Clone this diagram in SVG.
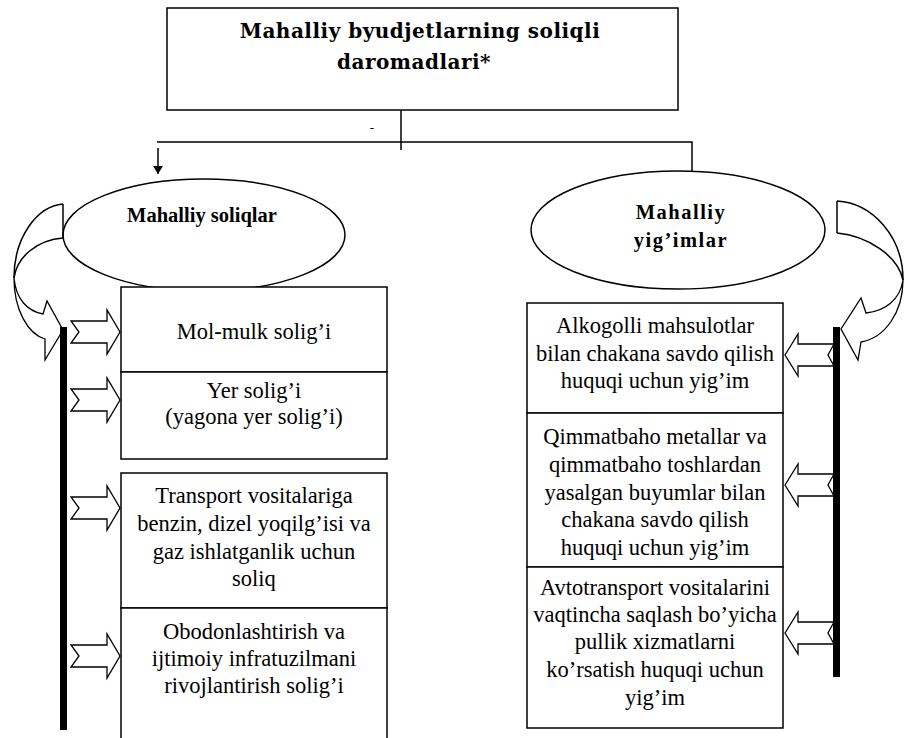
<svg xmlns="http://www.w3.org/2000/svg" width="906" height="738" viewBox="0 0 906 738">
<style>
.box{fill:#fff;stroke:#000;stroke-width:1.5}
.ell{fill:none;stroke:#000;stroke-width:1.5}
.ln{fill:none;stroke:#000;stroke-width:1.5}
.blk{fill:#fff;stroke:#000;stroke-width:1.3}
.bar{fill:#000}
.t{font-family:"Liberation Serif","Times New Roman",serif;font-size:22.5px;text-anchor:middle;fill:#000}
.tb{font-family:"Liberation Serif","Times New Roman",serif;font-size:20.5px;font-weight:bold;text-anchor:middle;fill:#000}
.title{font-family:"DejaVu Serif",serif;font-size:20px;font-weight:bold;letter-spacing:0.5px;text-anchor:middle;fill:#000}
</style>
<defs>
<marker id="ah" markerUnits="userSpaceOnUse" markerWidth="12" markerHeight="10" refX="8" refY="5" orient="auto">
<path d="M0,0 L8,5 L0,10 Z" fill="#000"/>
</marker>
<polygon id="arrR" points="0,-11 36,-11 36,-22 49,0 36,22 36,11 0,11 8,0"/>
<polygon id="arrL" points="0,0 13,-21 13,-11 49,-11 43,0 49,11 13,11 13,21"/>
</defs>

<g id="title-box">
<rect class="box" x="167" y="8" width="511" height="102"/>
<text class="title" x="420" y="38">Mahalliy byudjetlarning soliqli</text>
<text class="title" x="414" y="69">daromadlari*</text>
</g>

<g id="connectors">
<line class="ln" x1="401" y1="110" x2="401" y2="150"/>
<polyline class="ln" points="157,142 692,142 692,172"/>
<line class="ln" x1="158" y1="148" x2="158" y2="174" marker-end="url(#ah)"/>
<text x="372" y="132" style="font-family:'Liberation Serif',serif;font-size:13px;text-anchor:middle">-</text>
<use href="#arrR" class="blk" x="71" y="332"/>
<use href="#arrR" class="blk" x="71" y="400"/>
<use href="#arrR" class="blk" x="71" y="508"/>
<use href="#arrR" class="blk" x="71" y="656"/>
<use href="#arrL" class="blk" x="785" y="355"/>
<use href="#arrL" class="blk" x="785" y="485"/>
<use href="#arrL" class="blk" x="785" y="633"/>
</g>

<g id="left-curved-arrow">
<path class="ln" d="M63,204 L63,238"/>
<path class="ln" d="M63,204 C38,206 14,236 14,278"/>
<path class="ln" d="M63,238 C38,240 17,256 14,278"/>
<path class="blk" d="M14,278 C16,299 27,311 43,314 L47,301 L63,330 L45,360 L45,339 C28,334 14,310 14,278 Z"/>
</g>

<g id="right-curved-arrow">
<path class="ln" d="M837,201 L837,233"/>
<path class="ln" d="M837,201 C872,203 903,236 903,280"/>
<path class="ln" d="M837,233 C868,236 898,256 903,280"/>
<path class="blk" d="M903,280 C900,300 885,311 866,313 L861,298 L841,329 L858,360 L861,342 C885,338 903,312 903,280 Z"/>
</g>

<g id="left-bar"><rect class="bar" x="60" y="327" width="7" height="403"/></g>
<g id="right-bar"><rect class="bar" x="833" y="327" width="7" height="350"/></g>

<g id="mahalliy-soliqlar">
<ellipse class="ell" cx="204" cy="235" rx="141" ry="56"/>
<text class="tb" x="202" y="222">Mahalliy soliqlar</text>
</g>

<g id="mahalliy-yigimlar">
<ellipse class="ell" cx="678" cy="230" rx="147" ry="59"/>
<text class="tb" x="681" y="219" style="letter-spacing:1.5px">Mahalliy</text>
<text class="tb" x="681" y="247" style="letter-spacing:1.5px">yig’imlar</text>
</g>

<g id="mol-mulk">
<rect class="box" x="121" y="287" width="266" height="85"/>
<text class="t" x="254" y="339">Mol-mulk solig’i</text>
</g>

<g id="yer-soligi">
<rect class="box" x="121" y="372" width="266" height="87"/>
<text class="t" x="254" y="398">Yer solig’i</text>
<text class="t" x="254" y="424">(yagona yer solig’i)</text>
</g>

<g id="transport">
<rect class="box" x="121" y="473" width="266" height="135"/>
<text class="t" x="254" y="503">Transport vositalariga</text>
<text class="t" x="254" y="531">benzin, dizel yoqilg’isi va</text>
<text class="t" x="254" y="559">gaz ishlatganlik uchun</text>
<text class="t" x="254" y="586">soliq</text>
</g>

<g id="obodonlashtirish">
<rect class="box" x="121" y="608" width="266" height="140"/>
<text class="t" x="254" y="639">Obodonlashtirish va</text>
<text class="t" x="254" y="666">ijtimoiy infratuzilmani</text>
<text class="t" x="254" y="693">rivojlantirish solig’i</text>
</g>

<g id="alkogolli">
<rect class="box" x="527" y="303" width="256" height="110"/>
<text class="t" x="655" y="333">Alkogolli mahsulotlar</text>
<text class="t" x="655" y="361">bilan chakana savdo qilish</text>
<text class="t" x="655" y="388">huquqi uchun yig’im</text>
</g>

<g id="qimmatbaho">
<rect class="box" x="527" y="413" width="256" height="154"/>
<text class="t" x="655" y="444">Qimmatbaho metallar va</text>
<text class="t" x="655" y="472">qimmatbaho toshlardan</text>
<text class="t" x="655" y="500">yasalgan buyumlar bilan</text>
<text class="t" x="655" y="527">chakana savdo qilish</text>
<text class="t" x="655" y="555">huquqi uchun yig’im</text>
</g>

<g id="avtotransport">
<rect class="box" x="527" y="567" width="256" height="161"/>
<text class="t" x="655" y="595">Avtotransport vositalarini</text>
<text class="t" x="655" y="622">vaqtincha saqlash bo’yicha</text>
<text class="t" x="655" y="649">pullik xizmatlarni</text>
<text class="t" x="655" y="677">ko’rsatish huquqi uchun</text>
<text class="t" x="655" y="705">yig’im</text>
</g>
</svg>
